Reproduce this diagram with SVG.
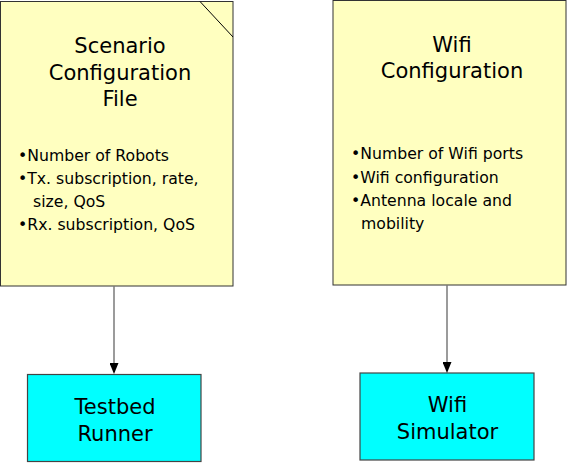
<svg xmlns="http://www.w3.org/2000/svg" width="567" height="463" viewBox="0 0 567 463">
  <style>
    .doc { fill: #ffffc0; stroke: #333333; stroke-width: 1; }
    .proc { fill: #00ffff; stroke: #444444; stroke-width: 1.2; }
    .fold { fill: none; stroke: #000000; stroke-width: 1; }
    .title { font-family: "DejaVu Sans", sans-serif; font-size: 21px; fill: #000000; text-anchor: middle; }
    .item { font-family: "DejaVu Sans", sans-serif; font-size: 15.7px; fill: #000000; }
    .conn { stroke: #7a7a7a; stroke-width: 1.5; fill: none; marker-end: url(#arrow); }
  </style>
  <defs>
    <marker id="arrow" viewBox="0 0 11 9" refX="9" refY="4.5" markerWidth="11" markerHeight="9" markerUnits="userSpaceOnUse" orient="auto">
      <path d="M0,0 L11,4.5 L0,9 z" fill="#000000"/>
    </marker>
  </defs>

  <g id="scenario-config">
    <rect class="doc" x="0.5" y="1.5" width="232.5" height="284.5"/>
    <line class="fold" x1="200" y1="1.5" x2="233" y2="37"/>
    <text class="title" x="120" y="52.5">Scenario</text>
    <text class="title" x="120" y="79.5">Configuration</text>
    <text class="title" x="120" y="106">File</text>
    <text class="item" x="18" y="161">•Number of Robots</text>
    <text class="item" x="18" y="184">•Tx. subscription, rate,</text>
    <text class="item" x="33" y="207">size, QoS</text>
    <text class="item" x="18" y="230">•Rx. subscription, QoS</text>
  </g>

  <g id="wifi-config">
    <rect class="doc" x="333" y="0.5" width="233" height="284.5"/>
    <text class="title" x="452" y="52">Wifi</text>
    <text class="title" x="452" y="78">Configuration</text>
    <text class="item" x="351" y="159">•Number of Wifi ports</text>
    <text class="item" x="351" y="182.5">•Wifi configuration</text>
    <text class="item" x="351" y="205.5">•Antenna locale and</text>
    <text class="item" x="361" y="228.5">mobility</text>
  </g>

  <g id="testbed-runner">
    <rect class="proc" x="27.5" y="374.5" width="173.5" height="87"/>
    <text class="title" x="115" y="414">Testbed</text>
    <text class="title" x="115" y="440.5">Runner</text>
  </g>

  <g id="wifi-simulator">
    <rect class="proc" x="360" y="373" width="174" height="87"/>
    <text class="title" x="447.5" y="412">Wifi</text>
    <text class="title" x="447.5" y="439">Simulator</text>
  </g>

  <g id="connectors">
    <line class="conn" x1="114" y1="286" x2="114" y2="372"/>
    <line class="conn" x1="447" y1="285" x2="447" y2="371"/>
  </g>
</svg>
